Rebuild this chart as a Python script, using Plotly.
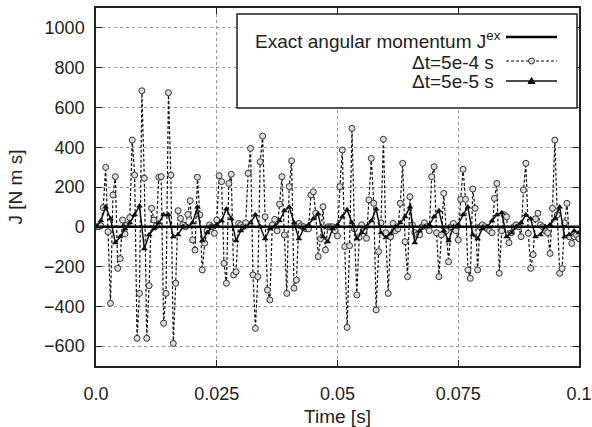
import plotly.graph_objects as go

DT_COARSE = 0.0005
DT_FINE_SAMPLE = 0.001

j_coarse = [
    0, 0, 5, 96, 299, -25, -385, 160, 252, -209, -160, 34, -36, 10, 46, 436, 260, -561, -335, 684,
    244, -561, -296, 93, 34, 5, 249, 252, -485, -335, 674, 260, -586, -284,
    81, 42, 10, 0, 62, 131, -66, -117, 249, 60, -217, -83, -20, 9, 0, -33, 34, 257, 227, -184,
    -284, 218, 264, -242, -226, 17, 10, 0, 20, 269, 394, -242, -511,
    -251, 327, 456, 50, -318, -368, 10, 37, -20, 114, 252, -41, -335, 202, 332, -309, -268, 17,
    5, 0, -10, -10, 160, 176, 68, -150, -60, 101, -117, 0, 0, 0, -20,
    -46, 202, 386, -100, -506, -95, 495, -10, -343, -53, 10, -20, -58, 135, 344, 118, -418, -125,
    20, 440, -30, -335, -50, 17, -20, -10, 118, 319, -75, -251, 151, 10, -30, -40,
    -40, 0, 20, 0, -20, 252, 302, -30, -251, -41, 168, -20, -176, 0, 17, -20, -66, 138, 289, 138,
    -217, -259, 190, 93, -217, 0, 10, 0, -10, -20, -30, 143, 218, -234,
    -20, 60, 50, -80, -30, 0, 10, 0, -50, 185, 319, -33, -209, -140, 40, 68, 10, 0, -20, -30,
    -134, 93, 436, 60, -234, -210, 20, 118, -50, -84, -50, -40, -60,
]

j_fine = [
    0, 30, 100, 40, -80, -50, -10, 20, 60, 105, -110, -40, -10, 20, 60, 60, -50, -40, 0, 0,
    20, 100, -70, -30, 0, 10, 30, 90, 40, -70, -20, 0, 20, 60, 0, -60, -10, 0, 30, 80,
    100, 20, -60, -10, 10, 40, 65, -50, -75, -10, 10, 50, 85, 20, -60, -30, 0, 30, 90, -30,
    -55, -35, 0, 20, 50, 100, -80, -20, 0, 10, 50, 80, -20, -70, 0, 10, 60, 100, -40, -60,
    -10, 0, 30, 60, 70, -50, -30, 0, 20, 60, 40, -50, -40, 0, 10, 40, 100, -50, -40, -20, -30,
]

t_exact = [0.0, 0.1]
j_exact = [0, 0]

x_ticks = [0.0, 0.025, 0.05, 0.075, 0.1]
x_tick_labels = ["0.0", "0.025", "0.05", "0.075", "0.1"]
y_ticks = [-600, -400, -200, 0, 200, 400, 600, 800, 1000]

legend_labels = ["Exact angular momentum J<sup>ex</sup>", "Δt=5e-4 s", "Δt=5e-5 s"]

t_coarse = [i * DT_COARSE for i in range(len(j_coarse))]
t_fine = [i * DT_FINE_SAMPLE for i in range(len(j_fine))]

FONT = "Liberation Sans, Arial, Helvetica, sans-serif"

fig = go.Figure()
fig.add_trace(go.Scatter(
    x=t_coarse, y=j_coarse, mode="lines+markers",
    line=dict(color="#111111", width=1.2, dash="3px,2px"),
    marker=dict(symbol="circle", size=6, color="#dcdcdc",
                line=dict(color="#333333", width=1)),
    showlegend=False,
))
fig.add_trace(go.Scatter(
    x=t_fine, y=j_fine, mode="lines+markers",
    line=dict(color="#111111", width=1.5),
    marker=dict(symbol="triangle-up", size=6, color="#111111"),
    showlegend=False,
))
fig.add_trace(go.Scatter(
    x=t_exact, y=j_exact, mode="lines",
    line=dict(color="#000000", width=2.5),
    showlegend=False,
))

axis_common = dict(
    showline=True, linecolor="#222222", linewidth=1.5, mirror="ticks",
    ticks="inside", ticklen=6, tickcolor="#222222", tickwidth=1.2,
    showgrid=True, gridcolor="#9a9a9a", gridwidth=1, griddash="dot",
    zeroline=False, automargin=False, ticklabeloverflow="allow",
    tickfont=dict(family=FONT, size=18, color="#222222"),
)

fig.update_xaxes(
    range=[0, 0.1], tickvals=x_ticks, ticktext=x_tick_labels,
    title=dict(text="Time [s]", font=dict(family=FONT, size=19, color="#222222"), standoff=17),
    ticklabelstandoff=11, **axis_common,
)
fig.update_yaxes(
    range=[-700, 1100], tickvals=y_ticks,
    title=dict(text="J [N m s]", font=dict(family=FONT, size=19, color="#222222"), standoff=16),
    ticklabelstandoff=6, **axis_common,
)

# custom gnuplot-style legend (text on left, sample on right)
W, H = 483.0, 358.0
def px(xp):
    return (xp - 96) / W
def py(yp):
    return (366 - yp) / H

shapes = [dict(type="rect", xref="paper", yref="paper", x0=px(237), x1=px(577),
               y0=py(108), y1=py(14), line=dict(color="#222222", width=1.5),
               fillcolor="white", layer="above")]
rows_y = [37, 61, 81]
lx0, lx1 = px(506), px(557)
shapes.append(dict(type="line", xref="paper", yref="paper", x0=lx0, x1=lx1,
                   y0=py(rows_y[0]), y1=py(rows_y[0]), line=dict(color="#000", width=2.5), layer="above"))
shapes.append(dict(type="line", xref="paper", yref="paper", x0=lx0, x1=lx1,
                   y0=py(rows_y[1]), y1=py(rows_y[1]),
                   line=dict(color="#111", width=1.2, dash="3px,2px"), layer="above"))
shapes.append(dict(type="circle", xref="paper", yref="paper",
                   x0=px(531.5 - 3), x1=px(531.5 + 3), y0=py(rows_y[1] + 3), y1=py(rows_y[1] - 3),
                   line=dict(color="#333", width=1), fillcolor="#dcdcdc", layer="above"))
shapes.append(dict(type="line", xref="paper", yref="paper", x0=lx0, x1=lx1,
                   y0=py(rows_y[2]), y1=py(rows_y[2]), line=dict(color="#111", width=1.5), layer="above"))
tri = "M {a},{b} L {c},{d} L {e},{f} Z".format(
    a=px(531.5 - 3.5), b=py(rows_y[2] + 2.5), c=px(531.5 + 3.5), d=py(rows_y[2] + 2.5),
    e=px(531.5), f=py(rows_y[2] - 3.5))
shapes.append(dict(type="path", xref="paper", yref="paper", path=tri,
                   fillcolor="#111", line=dict(color="#111", width=1), layer="above"))

annotations = []
for lbl, xx, yy in zip(legend_labels, [503, 496, 496], [40, 62, 82]):
    annotations.append(dict(text=lbl, xref="paper", yref="paper", x=px(xx), y=py(yy),
                            xanchor="right", yanchor="middle", showarrow=False,
                            font=dict(family=FONT, size=19, color="#222222")))

fig.update_layout(
    width=592, height=427,
    margin=dict(l=96, r=13, t=8, b=61, pad=0),
    paper_bgcolor="white", plot_bgcolor="white",
    shapes=shapes, annotations=annotations,
    showlegend=False,
)

fig.write_html("out.html")
